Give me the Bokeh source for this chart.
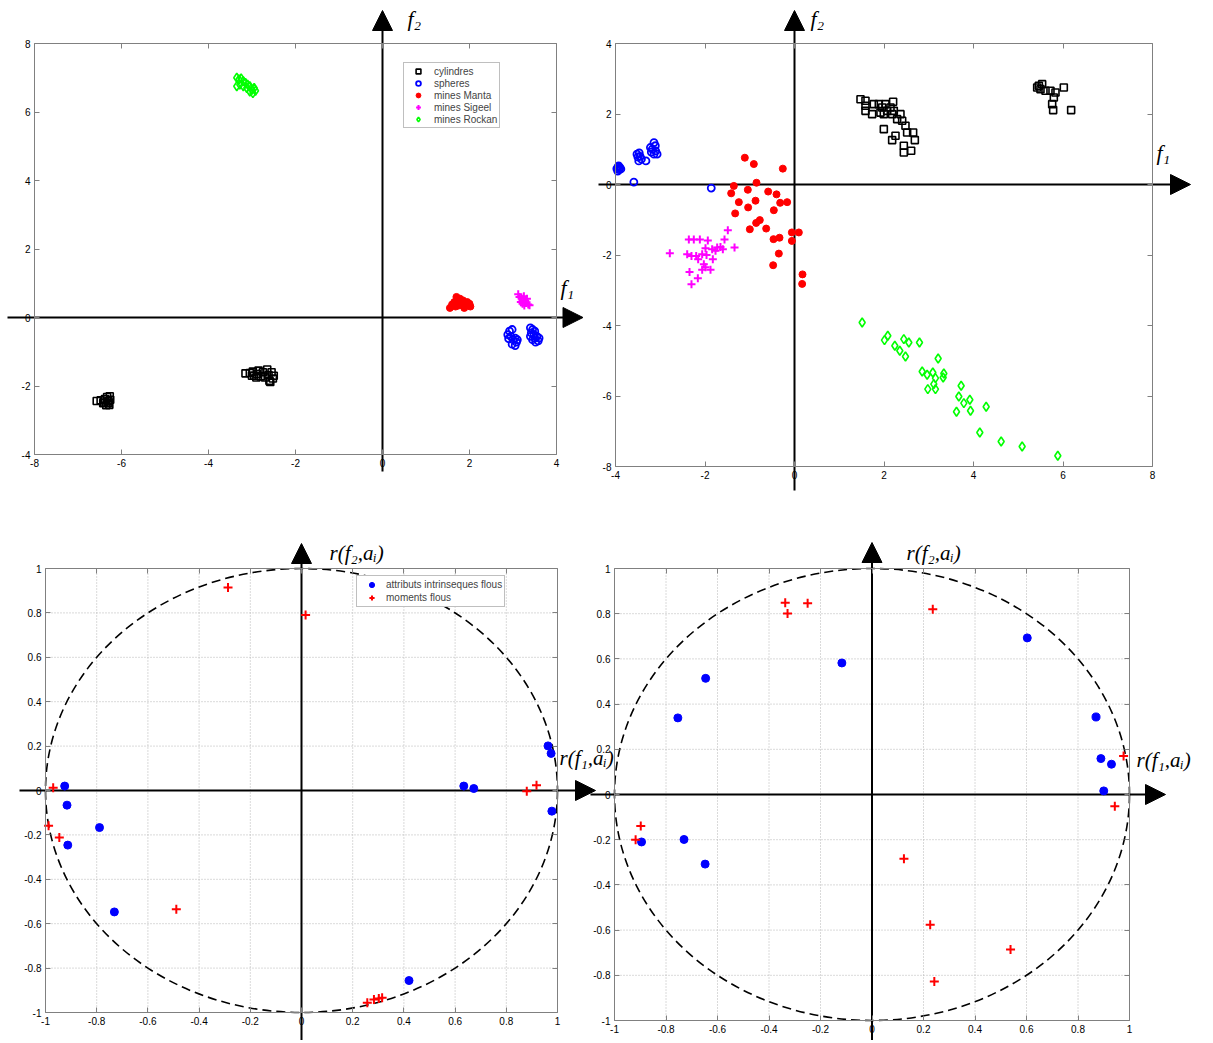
from bokeh.plotting import figure
from bokeh.models import (Label, Legend, LegendItem, LinearAxis, FixedTicker, Range1d,
                          CustomJSTickFormatter)
from bokeh.layouts import column, row
from bokeh.embed import file_html
from bokeh.resources import INLINE

# ---------------- data : top-left panel ----------------
tl_cyl_x = [-6.57, -6.48, -6.42, -6.38, -6.33, -6.3, -6.28, -6.26, -6.35, -6.4, -6.3, -6.27,
            -3.15, -3.05, -2.98, -2.95, -2.88, -2.85, -2.8, -2.75, -2.7, -2.65, -2.62, -2.6,
            -2.55, -2.52, -2.5, -2.58, -2.9, -3.0]
tl_cyl_y = [-2.44, -2.42, -2.5, -2.38, -2.32, -2.45, -2.55, -2.4, -2.56, -2.48, -2.5, -2.3,
            -1.63, -1.62, -1.58, -1.7, -1.65, -1.55, -1.72, -1.6, -1.75, -1.52, -1.68, -1.85,
            -1.6, -1.78, -1.7, -1.88, -1.75, -1.7]
tl_sph_x = [2.88, 2.92, 2.98, 2.95, 3.0, 3.05, 3.08, 3.05, 2.98, 3.1, 2.9,
            3.4, 3.45, 3.42, 3.48, 3.5, 3.55, 3.45, 3.52, 3.58, 3.6, 3.4, 3.5]
tl_sph_y = [-0.5, -0.4, -0.35, -0.55, -0.65, -0.6, -0.72, -0.82, -0.78, -0.65, -0.62,
            -0.3, -0.35, -0.45, -0.5, -0.6, -0.55, -0.65, -0.72, -0.68, -0.6, -0.55, -0.4]
tl_manta_x = [1.55, 1.6, 1.65, 1.7, 1.72, 1.78, 1.8, 1.85, 1.9, 1.95, 2.0, 1.88, 1.75, 1.68, 2.02]
tl_manta_y = [0.28, 0.38, 0.45, 0.6, 0.5, 0.55, 0.42, 0.5, 0.35, 0.45, 0.4, 0.28, 0.35, 0.32, 0.32]
tl_sigeel_x = [3.12, 3.15, 3.2, 3.18, 3.25, 3.28, 3.22, 3.3, 3.35, 3.32, 3.26, 3.38]
tl_sigeel_y = [0.68, 0.6, 0.55, 0.45, 0.62, 0.5, 0.4, 0.42, 0.38, 0.55, 0.35, 0.36]
tl_rockan_x = [-3.35, -3.3, -3.25, -3.2, -3.28, -3.15, -3.1, -3.05, -3.12, -3.0, -2.95, -3.05,
               -2.98, -3.2, -3.35, -2.92]
tl_rockan_y = [7.0, 6.95, 6.98, 6.9, 6.8, 6.85, 6.8, 6.75, 6.7, 6.65, 6.7, 6.6, 6.55, 6.75,
               6.75, 6.62]

# ---------------- data : top-right panel ----------------
tr_cyl_x = [1.475, 1.586, 1.586, 1.586, 1.735, 1.772, 1.884, 1.959, 2.033, 2.07, 2.145, 1.921,
            1.996, 2.182, 2.204, 2.219, 2.368, 2.294, 2.406, 2.48, 1.996, 2.517, 2.651, 2.257,
            2.689, 2.182, 2.443, 2.443, 2.607,
            5.46, 5.497, 5.609, 5.423, 5.534, 5.72, 5.832, 6.018, 5.795, 5.758, 5.78, 6.182]
tr_cyl_y = [2.42, 2.375, 2.232, 2.09, 1.996, 2.28, 2.28, 2.185, 2.28, 2.09, 2.185, 2.04,
            1.996, 1.996, 2.346, 2.09, 1.996, 1.854, 1.807, 1.665, 1.57, 1.476, 1.476, 1.382,
            1.259, 1.259, 1.098, 0.909, 0.956,
            2.8, 2.705, 2.658, 2.753, 2.847, 2.658, 2.611, 2.753, 2.469, 2.28, 2.11, 2.11]
tr_sph_x = [-3.97, -3.94, -3.92, -3.9, -3.95, -3.88, -3.93,
            -3.52, -3.47, -3.48, -3.42, -3.5, -3.45, -3.32,
            -3.14, -3.11, -3.18, -3.22, -3.07, -3.14, -3.1, -3.2,
            -3.59, -1.86]
tr_sph_y = [0.45, 0.5, 0.42, 0.48, 0.38, 0.44, 0.53,
            0.86, 0.9, 0.67, 0.72, 0.78, 0.8, 0.67,
            1.19, 1.1, 1.0, 1.05, 0.86, 0.86, 0.95, 0.92,
            0.07, -0.1]
tr_manta_x = [-1.11, -0.909, -0.261, -1.356, -0.849, -1.415, -1.043, -1.244, -0.871, -0.588,
              -0.402, -0.32, -0.164, -1.326, -1.036, -0.462, -0.775, -0.857, -0.998, -0.633,
              -0.469, -0.335, -0.059, 0.097, -0.059, -0.35, -0.477, 0.179, 0.171]
tr_manta_y = [0.76, 0.58, 0.45, -0.04, 0.05, -0.25, -0.15, -0.5, -0.46, -0.2,
              -0.28, -0.52, -0.5, -0.82, -0.65, -0.73, -1.01, -1.09, -1.27, -1.25,
              -1.55, -1.51, -1.36, -1.36, -1.6, -1.96, -2.29, -2.55, -2.82]
tr_sigeel_x = [-2.786, -2.361, -2.25, -2.115, -1.937, -1.49, -1.564, -1.34, -2.398, -2.302,
               -2.197, -2.063, -1.989, -1.84, -1.728, -1.654, -1.601, -2.153, -2.026, -1.989,
               -1.825, -1.877, -2.063, -2.346, -2.16, -2.302, -1.966, -1.765]
tr_sigeel_y = [-1.95, -1.56, -1.56, -1.56, -1.59, -1.3, -1.56, -1.79, -1.98, -2.03,
               -2.03, -1.98, -1.81, -1.84, -1.79, -1.77, -1.84, -2.12, -2.26, -2.35,
               -2.12, -2.42, -2.42, -2.48, -2.66, -2.83, -2.0, -1.88]
tr_rockan_x = [1.512, 2.011, 2.085, 2.242, 2.353, 2.443, 2.555, 2.48, 2.793, 3.21, 2.853, 2.964,
               3.091, 3.15, 3.337, 3.322, 3.113, 2.979, 3.15, 3.724, 3.672, 3.784, 3.918, 3.62,
               3.933, 4.283, 4.141, 4.618, 5.087, 5.884]
tr_rockan_y = [-3.914, -4.415, -4.292, -4.576, -4.717, -4.386, -4.481, -4.878, -4.481, -4.935,
               -5.304, -5.398, -5.332, -5.493, -5.36, -5.474, -5.663, -5.805, -5.805, -5.71,
               -6.013, -6.202, -6.107, -6.448, -6.42, -6.306, -7.034, -7.29, -7.431, -7.696]

# ---------------- data : bottom-left correlation circle ----------------
bl_attr_x = [-0.925, -0.916, -0.913, -0.789, -0.731, 0.634, 0.673, 0.963, 0.975, 0.978, 0.42]
bl_attr_y = [0.02, -0.066, -0.246, -0.167, -0.547, 0.02, 0.009, 0.201, 0.167, -0.093, -0.856]
bl_mom_x = [-0.287, 0.016, -0.97, -0.988, -0.946, -0.489, 0.88, 0.918, 0.257, 0.283, 0.302, 0.315]
bl_mom_y = [0.914, 0.79, 0.012, -0.159, -0.212, -0.535, -0.003, 0.024, -0.956, -0.941, -0.937,
            -0.934]

# ---------------- data : bottom-right correlation circle ----------------
br_attr_x = [0.603, -0.117, -0.646, -0.754, 0.87, 0.889, 0.93, 0.9, -0.895, -0.73, -0.648]
br_attr_y = [0.693, 0.582, 0.514, 0.339, 0.343, 0.159, 0.134, 0.016, -0.21, -0.199, -0.308]
br_mom_x = [-0.337, -0.25, -0.328, 0.236, 0.977, 0.943, -0.898, -0.918, 0.124, 0.226, 0.538, 0.242]
br_mom_y = [0.849, 0.846, 0.801, 0.82, 0.17, -0.052, -0.139, -0.2, -0.284, -0.576, -0.686, -0.827]

circle_x, circle_y, circle_d = [0], [0], [2]

# ---------------- ticks ----------------
tl_xticks = [-8, -6, -4, -2, 0, 2, 4]
tl_xlabels = ["-8", "-6", "-4", "-2", "0", "2", "4"]
tl_yticks = [-4, -2, 0, 2, 4, 6, 8]
tl_ylabels = ["-4", "-2", "0", "2", "4", "6", "8"]
tr_xticks = [-4, -2, 0, 2, 4, 6, 8]
tr_xlabels = ["-4", "-2", "0", "2", "4", "6", "8"]
tr_yticks = [-8, -6, -4, -2, 0, 2, 4]
tr_ylabels = ["-8", "-6", "-4", "-2", "0", "2", "4"]
c_ticks = [-1, -0.8, -0.6, -0.4, -0.2, 0, 0.2, 0.4, 0.6, 0.8, 1]
c_labels = ["-1", "-0.8", "-0.6", "-0.4", "-0.2", "0", "0.2", "0.4", "0.6", "0.8", "1"]

legend_names = ["cylindres", "spheres", "mines Manta", "mines Sigeel", "mines Rockan"]
legend_names_c = ["attributs intrinseques flous", "moments flous"]

TICK_FONT = "Liberation Sans"
SERIF = "Liberation Serif"
BOX = "#808080"


def fmt(ticks, labels):
    return CustomJSTickFormatter(args=dict(tk=ticks, lb=labels),
                                 code="const i = tk.indexOf(tick); return i >= 0 ? lb[i] : '';")


def make_panel(W, H, box_px, box_data, xt, xl, yt, yl, grid=False):
    """Figure whose frame fills the canvas; the plotting box is placed by its pixel edges."""
    bl, bt, br, bb = box_px
    x0, x1, y0, y1 = box_data
    ux = (x1 - x0) / (br - bl)
    uy = (y1 - y0) / (bb - bt)
    xs, xe = x0 - bl * ux, x0 + (W - bl) * ux
    ye, ys = y1 + bt * uy, y1 - (H - bt) * uy
    p = figure(width=W, height=H, x_range=Range1d(xs, xe), y_range=Range1d(ys, ye),
               x_axis_location=None, y_axis_location=None,
               output_backend="svg", toolbar_location=None,
               min_border=0, min_border_left=0, min_border_right=0,
               min_border_top=0, min_border_bottom=0)
    p.border_fill_alpha = 0
    p.background_fill_alpha = 0
    p.outline_line_color = None
    p.grid.visible = False

    if grid:
        gx = [t for t in xt if x0 < t < x1]
        gy = [t for t in yt if y0 < t < y1]
        p.segment(x0=gx, y0=[y0] * len(gx), x1=gx, y1=[y1] * len(gx),
                  line_color="#b4b4b4", line_dash="1 2", line_width=1)
        p.segment(x0=[x0] * len(gy), y0=gy, x1=[x1] * len(gy), y1=gy,
                  line_color="#b4b4b4", line_dash="1 2", line_width=1)

    specs = [("below", y0, (x0, x1), xt, xl, True), ("above", y1, (x0, x1), xt, xl, False),
             ("left", x0, (y0, y1), yt, yl, True), ("right", x1, (y0, y1), yt, yl, False)]
    for side, loc, bounds, t, lab, show in specs:
        ax = LinearAxis(fixed_location=loc, bounds=bounds, ticker=FixedTicker(ticks=t),
                        formatter=fmt(t, lab))
        ax.axis_line_color = BOX
        ax.axis_line_width = 1
        ax.major_tick_in = 5
        ax.major_tick_out = 0
        ax.major_tick_line_color = BOX
        ax.minor_tick_line_color = None
        ax.major_label_text_font = TICK_FONT
        ax.major_label_text_font_size = "10px"
        ax.major_label_standoff = 4
        ax.major_label_text_color = "black" if show else None
        p.add_layout(ax, side)

    def px(v):
        return xs + v * ux

    def py(v):
        return ye - v * uy

    return p, px, py, ux, uy


def axes_arrows(p, px, py, ux, uy, h_from, h_tip, v_from, v_tip, head=20):
    # axis lines through the origin, with filled triangular heads
    p.segment(x0=[px(h_from)], y0=[0], x1=[px(h_tip - head + 2)], y1=[0],
              line_color="black", line_width=2)
    p.segment(x0=[0], y0=[py(v_from)], x1=[0], y1=[py(v_tip + head - 2)],
              line_color="black", line_width=2)
    hx, hb = px(h_tip), px(h_tip - head)
    p.patch([hx, hb, hb], [0, 10 * uy, -10 * uy], fill_color="black", line_color="black")
    vy, vb = py(v_tip), py(v_tip + head)
    p.patch([0, -10 * ux, 10 * ux], [vy, vb, vb], fill_color="black", line_color="black")


def axis_label(p, x, y, text, size="22px"):
    p.add_layout(Label(x=x, y=y, text=text, text_font=SERIF, text_font_style="italic",
                       text_font_size=size, text_baseline="middle", text_align="left",
                       text_color="black"))


def scatter_groups(p, groups):
    return [p.scatter(xs, ys, **kw) for xs, ys, kw in groups]


styles = [
    dict(marker="square", size=7, fill_color=None, line_color="black", line_width=1.6),
    dict(marker="circle", size=7, fill_color=None, line_color="#0000ff", line_width=1.8),
    dict(marker="circle", size=7, fill_color="#ff0000", line_color="#ff0000", line_width=1),
    dict(marker="cross", size=8, line_color="#ff00ff", line_width=2),
    dict(marker="diamond", size=9, fill_color=None, line_color="#00ff00", line_width=1.6),
]
cstyles = [
    dict(marker="circle", size=8, fill_color="#0000ff", line_color="#0000ff", line_width=1),
    dict(marker="cross", size=9, line_color="#ff0000", line_width=2),
]

# ---------------- top-left ----------------
p1, px1, py1, ux1, uy1 = make_panel(590, 528, (34, 43, 556, 454), (-8, 4, -4, 8),
                                    tl_xticks, tl_xlabels, tl_yticks, tl_ylabels)
axes_arrows(p1, px1, py1, ux1, uy1, 7, 582.5, 471, 10)
r1 = scatter_groups(p1, [
    (tl_cyl_x, tl_cyl_y, styles[0]),
    (tl_sph_x, tl_sph_y, styles[1]),
    (tl_manta_x, tl_manta_y, styles[2]),
    (tl_sigeel_x, tl_sigeel_y, styles[3]),
    (tl_rockan_x, tl_rockan_y, styles[4]),
])
axis_label(p1, px1(407), py1(18), "f\u2082")
axis_label(p1, px1(560), py1(287), "f\u2081")
leg1 = Legend(items=[LegendItem(label=n, renderers=[r]) for n, r in zip(legend_names, r1)],
              location=(403, 528 - 128), orientation="vertical",
              glyph_width=24, glyph_height=12, label_height=12, spacing=0, padding=2,
              label_standoff=4, margin=0,
              label_text_font=TICK_FONT, label_text_font_size="10px",
              border_line_color=BOX, border_line_width=1,
              background_fill_color="white", background_fill_alpha=1)
p1.add_layout(leg1)

# ---------------- top-right ----------------
p2, px2, py2, ux2, uy2 = make_panel(610, 528, (25, 43, 562, 466), (-4, 8, -8, 4),
                                    tr_xticks, tr_xlabels, tr_yticks, tr_ylabels)
axes_arrows(p2, px2, py2, ux2, uy2, 8, 600, 490, 10)
scatter_groups(p2, [
    (tr_cyl_x, tr_cyl_y, styles[0]),
    (tr_sph_x, tr_sph_y, styles[1]),
    (tr_manta_x, tr_manta_y, styles[2]),
    (tr_sigeel_x, tr_sigeel_y, styles[3]),
    (tr_rockan_x, tr_rockan_y, styles[4]),
])
axis_label(p2, px2(220), py2(18), "f\u2082")
axis_label(p2, px2(566), py2(152), "f\u2081")

# ---------------- bottom-left ----------------
p3, px3, py3, ux3, uy3 = make_panel(630, 512, (45, 40, 557, 484), (-1, 1, -1, 1),
                                    c_ticks, c_labels, c_ticks, c_labels, grid=True)
p3.ellipse(circle_x, circle_y, width=circle_d, height=circle_d, fill_color=None,
           line_color="black", line_dash="9 5", line_width=1.6)
axes_arrows(p3, px3, py3, ux3, uy3, 19, 595, 512, 15)
r3 = scatter_groups(p3, [
    (bl_attr_x, bl_attr_y, cstyles[0]),
    (bl_mom_x, bl_mom_y, cstyles[1]),
])
axis_label(p3, px3(329), py3(24), "r(f\u2082,a\u1d62)", "21px")
axis_label(p3, px3(559), py3(229), "r(f\u2081,a\u1d62)", "21px")
leg3 = Legend(items=[LegendItem(label=n, renderers=[r]) for n, r in zip(legend_names_c, r3)],
              location=(356, 512 - 79), orientation="vertical",
              glyph_width=25, glyph_height=13, label_height=13, spacing=0, padding=2,
              label_standoff=2, margin=0,
              label_text_font=TICK_FONT, label_text_font_size="10px",
              border_line_color=BOX, border_line_width=1,
              background_fill_color="white", background_fill_alpha=1)
p3.add_layout(leg3)

# ---------------- bottom-right ----------------
p4, px4, py4, ux4, uy4 = make_panel(622, 512, (26, 40, 541, 492), (-1, 1, -1, 1),
                                    c_ticks, c_labels, c_ticks, c_labels, grid=True)
p4.ellipse(circle_x, circle_y, width=circle_d, height=circle_d, fill_color=None,
           line_color="black", line_dash="9 5", line_width=1.6)
axes_arrows(p4, px4, py4, ux4, uy4, 2, 577, 512, 14)
scatter_groups(p4, [
    (br_attr_x, br_attr_y, cstyles[0]),
    (br_mom_x, br_mom_y, cstyles[1]),
])
axis_label(p4, px4(318), py4(24), "r(f\u2082,a\u1d62)", "21px")
axis_label(p4, px4(548), py4(231), "r(f\u2081,a\u1d62)", "21px")
p4.margin = (0, 0, 0, -42)

layout = column(row(p1, p2), row(p3, p4))
open("out.html", "w").write(file_html(layout, INLINE))
